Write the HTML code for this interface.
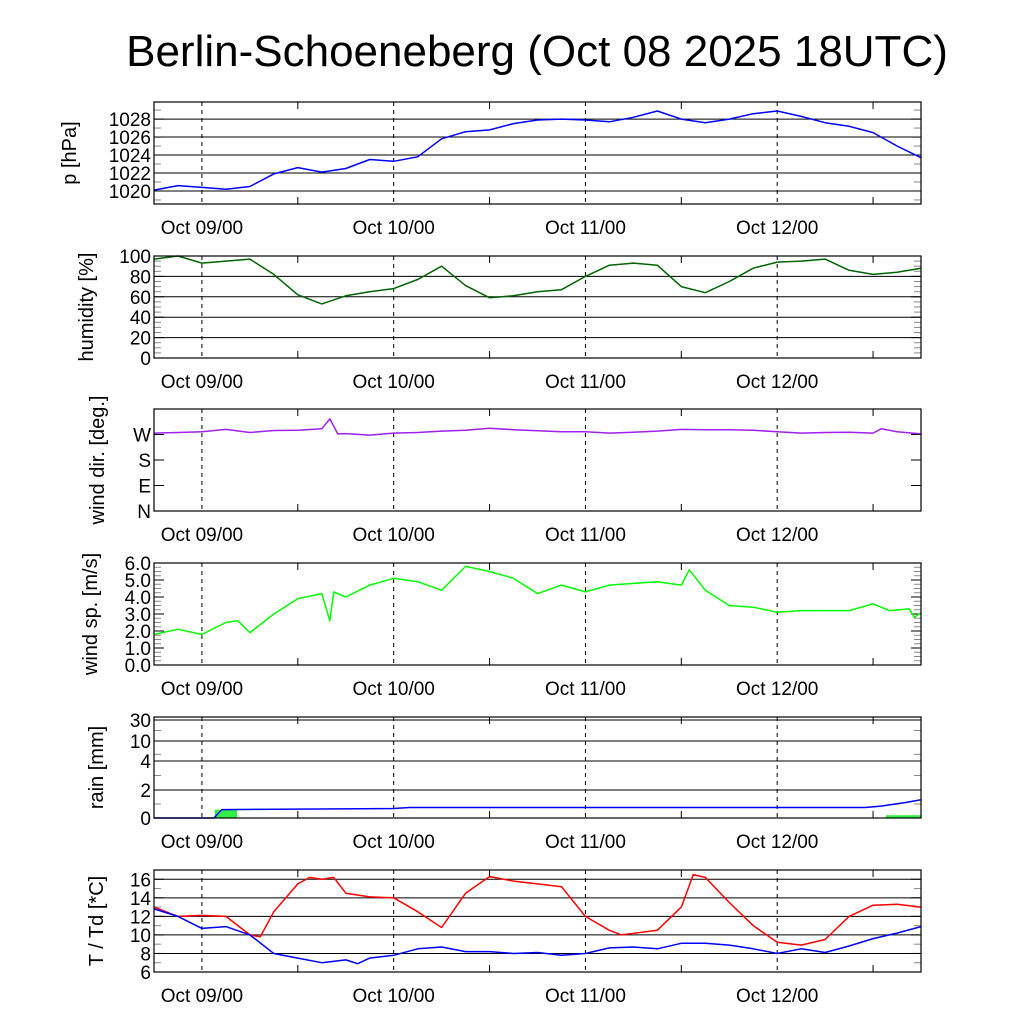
<!DOCTYPE html>
<html><head><meta charset="utf-8"><style>
html,body{margin:0;padding:0;background:#fff;}
svg{display:block;font-family:"Liberation Sans",sans-serif;}
</style></head><body>
<svg id="chart" width="1024" height="1024" viewBox="0 0 1024 1024" xmlns="http://www.w3.org/2000/svg">
<text x="537" y="66" font-size="44" text-anchor="middle">Berlin-Schoeneberg (Oct 08 2025 18UTC)</text>
</svg>
<script>
// hours since Oct 08 18UTC
const dayLabels = ["Oct 09/00","Oct 10/00","Oct 11/00","Oct 12/00"];
const dayHours = [6,30,54,78];

const pHours = [0,3,6,9,12,15,18,21,24,27,30,33,36,39,42,45,48,51,54,57,60,63,66,69,72,75,78,81,84,87,90,93,96];
const pVals = [1020.1,1020.6,1020.4,1020.2,1020.5,1021.9,1022.6,1022.1,1022.5,1023.5,1023.3,1023.8,1025.8,1026.6,1026.8,1027.5,1027.9,1028.0,1027.9,1027.7,1028.2,1028.9,1028.0,1027.6,1028.0,1028.6,1028.9,1028.3,1027.6,1027.2,1026.5,1025.0,1023.7];

const hHours = pHours;
const hVals = [97,100,93,95,97,82,62,53,61,65,68,77,90,71,59,61,65,67,80,91,93,91,70,64,75,88,94,95,97,86,82,84,88];

const dirHours = [0,3,6,9,12,15,18,21,22,23,24,27,30,33,36,39,42,45,48,51,54,57,60,63,66,69,72,75,78,81,84,87,90,91,93,96];
const dirVals = [275,277,280,288,277,284,285,290,325,272,273,268,275,277,282,285,292,287,283,280,280,275,278,282,288,287,287,285,280,275,277,278,275,290,280,272];

const wsHours = [0,3,6,9,10.5,12,15,18,21,22,22.5,24,27,30,33,36,39,42,45,48,51,54,57,60,63,66,67,69,72,75,78,81,84,87,90,92,94.5,95.2,96];
const wsVals = [1.8,2.1,1.8,2.5,2.6,1.9,3.0,3.9,4.2,2.6,4.3,4.0,4.7,5.1,4.9,4.4,5.8,5.5,5.1,4.2,4.7,4.3,4.7,4.8,4.9,4.7,5.6,4.4,3.5,3.4,3.1,3.2,3.2,3.2,3.6,3.2,3.3,2.8,3.1];

const tHours = [0,3,6,9,12,13.3,15,18,19.5,21,22.5,24,27,30,33,36,39,42,45,48,51,54,57,58.5,63,66,67.5,69,72,75,78,81,84,87,90,93,96];
const tVals = [13.0,12.0,12.1,12.0,10.0,9.8,12.5,15.5,16.2,16.0,16.2,14.5,14.1,14.0,12.5,10.8,14.5,16.3,15.8,15.5,15.2,12.0,10.5,10.0,10.5,13.0,16.5,16.2,13.5,11.0,9.2,8.9,9.5,12.0,13.2,13.3,13.0];
const tdHours = [0,3,6,9,12,15,18,21,24,25.5,27,30,33,36,39,42,45,48,51,54,57,60,63,66,69,72,75,78,81,84,87,90,93,96];
const tdVals = [12.8,12.0,10.7,10.9,10.0,8.0,7.5,7.0,7.3,6.9,7.5,7.8,8.5,8.7,8.2,8.2,8.0,8.1,7.8,8.0,8.6,8.7,8.5,9.1,9.1,8.9,8.5,8.0,8.5,8.1,8.8,9.6,10.2,10.9];

const rainHours = [0,7.5,8.5,30,32,89,91,94,96];
const rainCum = [0,0,0.6,0.68,0.75,0.75,0.85,1.1,1.3];
const barStart = [7.6,91.6];
const barEnd = [10.4,96];
const barVals = [0.6,0.2];

const NS="http://www.w3.org/2000/svg";
const svg=document.getElementById('chart');
const X0=154,X1=921;
function xs(h){return X0+(X1-X0)*h/96;}
function mk(tag,attrs,parent){const e=document.createElementNS(NS,tag);for(const k in attrs)e.setAttribute(k,attrs[k]);(parent||svg).appendChild(e);return e;}

const panels=[
 {name:'pressure',top:102,bot:204,label:'p [hPa]',lx:76,min:1018.55,max:1029.9,grid:[1020,1022,1024,1026,1028],ticks:[1020,1022,1024,1026,1028],fmt:v=>v,minor:1},
 {name:'humidity',top:256,bot:358,label:'humidity [%]',lx:93,min:0,max:100,grid:[20,40,60,80,100],ticks:[0,20,40,60,80,100],fmt:v=>v,minor:5},
 {name:'wind-direction',top:409,bot:511,label:'wind dir. [deg.]',lx:104,min:0,max:360,grid:[],ticks:[0,90,180,270],fmt:v=>({0:'N',90:'E',180:'S',270:'W'})[v],minor:null},
 {name:'wind-speed',top:563,bot:665,label:'wind sp. [m/s]',lx:97,min:0,max:6,grid:[],ticks:[0,1,2,3,4,5,6],fmt:v=>v.toFixed(1),minor:0.25},
 {name:'rain',top:717,bot:818,label:'rain [mm]',lx:103,rain:true,grid:[2,4,10,30],ticks:[0,2,4,10,30],fmt:v=>v,minor:null},
 {name:'temperature',top:870,bot:972,label:'T / Td [*C]',lx:103,min:6,max:17,grid:[8,10,12,14,16],ticks:[6,8,10,12,14,16],fmt:v=>v,minor:1}
];
const rainT=[0,2,4,10,30,40], rainY=[818,790,761,741,720,717];
function rainY_(v){for(let i=0;i<rainT.length-1;i++){if(v<=rainT[i+1]){return rainY[i]+(rainY[i+1]-rainY[i])*(v-rainT[i])/(rainT[i+1]-rainT[i]);}}return 717;}

panels.forEach(p=>{
 p.ys = p.rain? rainY_ : (v=>p.bot-(v-p.min)/(p.max-p.min)*(p.bot-p.top));
 const g=mk('g',{});
 
 
 p.g=g;
 p.grid.forEach(v=>{const l=mk('line',{x1:X0,x2:X1,y1:p.ys(v),y2:p.ys(v),stroke:'#000','stroke-width':1},g);
   });
 dayHours.forEach(h=>{const l=mk('line',{x1:xs(h),x2:xs(h),y1:p.top,y2:p.bot,stroke:'#000','stroke-width':1,'stroke-dasharray':'4,4'},g);
   });
 for(let h=18;h<96;h+=24){mk('line',{x1:xs(h),x2:xs(h),y1:p.bot,y2:p.bot-7,stroke:'#000'},g);mk('line',{x1:xs(h),x2:xs(h),y1:p.top,y2:p.top+7,stroke:'#000'},g);}
 if(p.minor){for(let v=p.min-(p.min%p.minor);v<=p.max;v+=p.minor){if(v<p.min)continue;const y=p.ys(v);mk('line',{x1:X0,x2:X0+7,y1:y,y2:y,stroke:'#888'},g);mk('line',{x1:X1-7,x2:X1,y1:y,y2:y,stroke:'#888'},g);}}
 if(p.rain){[1,3,6,20].forEach(v=>{const y=p.ys(v);mk('line',{x1:X0,x2:X0+7,y1:y,y2:y,stroke:'#888'},g);mk('line',{x1:X1-7,x2:X1,y1:y,y2:y,stroke:'#888'},g);});}
 p.ticks.forEach(v=>{const y=p.ys(v);
   mk('line',{x1:X0,x2:X0+10,y1:y,y2:y,stroke:'#000'},g);mk('line',{x1:X1-10,x2:X1,y1:y,y2:y,stroke:'#000'},g);
   const t=mk('text',{x:X0-3,y:y+7,'font-size':19,'text-anchor':'end'},g);t.textContent=p.fmt(v);
   });
 const lab=mk('text',{x:0,y:0,'font-size':20,'text-anchor':'middle',transform:`translate(${p.lx},${(p.top+p.bot)/2}) rotate(-90)`},g);
 lab.textContent=p.label;
 
 dayHours.forEach((h,i)=>{const t=mk('text',{x:xs(h),y:p.bot+30,'font-size':19,'text-anchor':'middle'},g);t.textContent=dayLabels[i];
   });
});

function line(p,hrs,vals,color,name){
 const pts=hrs.map((h,i)=>xs(h).toFixed(1)+','+p.ys(vals[i]).toFixed(1)).join(' ');
 const l=mk('polyline',{points:pts,fill:'none',stroke:color,'stroke-width':1.5,'stroke-linejoin':'round'},p.g);
 
 
}
const rp=panels[4];
barVals.forEach((v,i)=>{const r=mk('rect',{x:xs(barStart[i]),y:rp.ys(v),width:xs(barEnd[i])-xs(barStart[i]),height:rp.bot-rp.ys(v),fill:'#33ee44'},rp.g);
 
 });
line(panels[0],pHours,pVals,'#0000ff','pressure-line');
line(panels[1],hHours,hVals,'#006400','humidity-line');
line(panels[2],dirHours,dirVals,'#a020f0','wind-direction-line');
line(panels[3],wsHours,wsVals,'#00ff00','wind-speed-line');
line(panels[4],rainHours,rainCum,'#0000ff','rain-cumulative-line');
line(panels[5],tHours,tVals,'#ff0000','temperature-line');
line(panels[5],tdHours,tdVals,'#0000ff','dewpoint-line');
panels.forEach(p=>{const r=mk('rect',{x:X0,y:p.top,width:X1-X0,height:p.bot-p.top,fill:'none',stroke:'#000','stroke-width':1.2},p.g);
 
 });
</script>
</body></html>
